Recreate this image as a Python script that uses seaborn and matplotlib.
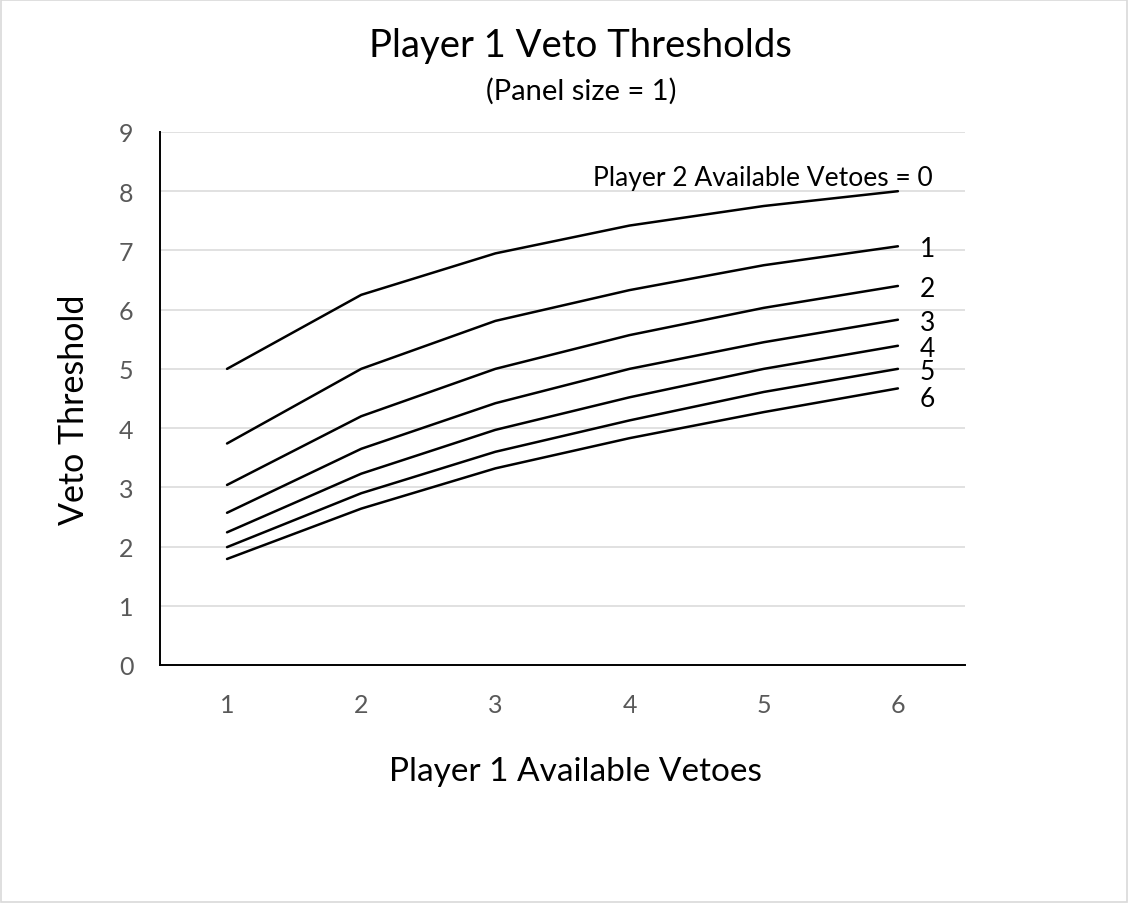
import matplotlib
matplotlib.use("Agg")
import matplotlib.pyplot as plt
import seaborn as sns
import pandas as pd
from matplotlib.patches import Rectangle

# ---- data ----
p1_vetoes = [1, 2, 3, 4, 5, 6]
p2_0 = [5.00, 6.25, 6.95, 7.42, 7.75, 8.00]
p2_1 = [3.74, 5.00, 5.81, 6.33, 6.75, 7.07]
p2_2 = [3.04, 4.20, 5.00, 5.57, 6.03, 6.40]
p2_3 = [2.57, 3.65, 4.42, 5.00, 5.45, 5.83]
p2_4 = [2.24, 3.23, 3.97, 4.52, 5.00, 5.39]
p2_5 = [1.99, 2.90, 3.60, 4.13, 4.61, 5.00]
p2_6 = [1.79, 2.64, 3.32, 3.83, 4.27, 4.67]
series_names = ["0", "1", "2", "3", "4", "5", "6"]
series_values = [p2_0, p2_1, p2_2, p2_3, p2_4, p2_5, p2_6]

rows = []
for name, vals in zip(series_names, series_values):
    for x, y in zip(p1_vetoes, vals):
        rows.append({"x": x, "y": y, "p2": name})
df = pd.DataFrame(rows)

sns.set_theme(style="white")
plt.rcParams["font.family"] = ["Lato", "DejaVu Sans"]

fig = plt.figure(figsize=(11.28, 9.04), dpi=100)
ax = fig.add_axes([0.1418, 0.2633, 0.8555 - 0.1418, 0.8529 - 0.2633])

sns.lineplot(data=df, x="x", y="y", hue="p2", palette=["black"] * 7,
             linewidth=1.8, legend=False, ax=ax, zorder=3)

ax.set_xlim(0.5, 6.5)
ax.set_ylim(0, 9)
ax.set_xticks(p1_vetoes)
ax.set_yticks(range(0, 10))
ax.grid(axis="y", color="#d9d9d9", linewidth=1.1, zorder=0)
ax.grid(axis="x", visible=False)
for s in ["top", "right"]:
    ax.spines[s].set_visible(False)
for s in ["left", "bottom"]:
    ax.spines[s].set_color("black")
    ax.spines[s].set_linewidth(1.4)
ax.tick_params(axis="both", length=0, labelsize=18, labelcolor="#595959")
ax.tick_params(axis="y", pad=19)
ax.tick_params(axis="x", pad=20)
ax.set_xlabel("Player 1 Available Vetoes", fontsize=24, labelpad=29, color="black", x=0.516)
ax.set_ylabel("Veto Threshold", fontsize=24.5, labelpad=21, color="black", y=0.48)

# series labels
ax.text(6.26, 8.28, "Player 2 Available Vetoes = 0", ha="right", va="center_baseline",
        fontsize=19, color="black")
offsets = {"1": 0.0, "2": 0.0, "3": 0.0, "4": 0.0, "5": 0.0, "6": -0.13}
for name, vals in zip(series_names[1:], series_values[1:]):
    ax.text(6.22, vals[-1] + offsets[name], name, ha="center", va="center_baseline",
            fontsize=19, color="black")

fig.text(0.515, 0.953, "Player 1 Veto Thresholds", ha="center", va="center_baseline",
         fontsize=27.5, color="black")
fig.text(0.515, 0.902, "(Panel size = 1)", ha="center", va="center_baseline",
         fontsize=21, color="black")

fig.patches.append(Rectangle((0.001, 0.001), 0.998, 0.998, transform=fig.transFigure,
                             fill=False, edgecolor="#d9d9d9", linewidth=1.2))

fig.savefig("out.png", dpi=100, facecolor="white")
